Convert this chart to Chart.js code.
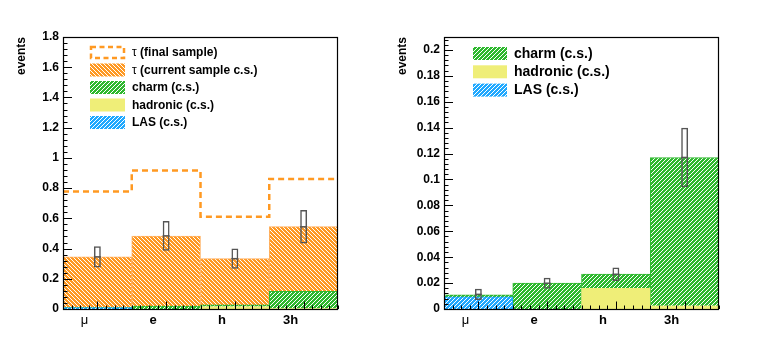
<!DOCTYPE html>
<html>
<head>
<meta charset="utf-8">
<script src="https://cdn.jsdelivr.net/npm/chart.js@4.4.0/dist/chart.umd.min.js"></script>
<style>
body { margin: 0; background: #fff; }
#wrap { position: relative; width: 763px; height: 347px; }
canvas { position: absolute; top: 0; }
</style>
</head>
<body>
<div id="wrap">
  <canvas id="left" width="381" height="347" style="left:0"></canvas>
  <canvas id="right" width="382" height="347" style="left:381px"></canvas>
</div>
<script>
// categories (tau decay channels)
const categories = ['\u03bc', 'e', 'h', '3h'];

// stacked expectations
const lasCS = [0.0093, 0, 0, 0];
const hadronicCS = [0, 0, 0.016, 0.0025];
const charmCS = [0.0017, 0.020, 0.011, 0.1145];
const tauCurrentCS = [0.334, 0.463, 0.306, 0.428];
const tauFinal = [0.777, 0.916, 0.611, 0.861];

// error boxes: centre and half height
const leftErrCenter = [0.345, 0.484, 0.333, 0.544];
const leftErrHalf = [0.071, 0.099, 0.067, 0.111];
const rightErrCenter = [0.0113, 0.0199, 0.0268, 0.117];
const rightErrHalf = [0.0044, 0.0042, 0.0052, 0.023];

// y tick labels
const leftYTicks = [0, 0.2, 0.4, 0.6, 0.8, 1, 1.2, 1.4, 1.6, 1.8];
const rightYTicks = [0, 0.02, 0.04, 0.06, 0.08, 0.1, 0.12, 0.14, 0.16, 0.18, 0.2];

const ORANGE = '#ff9922';
const GREEN = '#2eb82e';
const BLUE = '#1fa8ff';
const YELLOW = '#efee78';
const BOXGREY = '#555555';

// crisp 1px diagonal white hatch on a 4x4 tile
function hatch(color, dir) {
    const c = document.createElement('canvas');
    c.width = 4; c.height = 4;
    const g = c.getContext('2d');
    g.fillStyle = color;
    g.fillRect(0, 0, 4, 4);
    g.fillStyle = '#ffffff';
    for (let i = 0; i < 4; i++) {
        const px = dir === '/' ? 3 - i : i;
        g.fillRect(px, i, 1, 1);
    }
    return g.createPattern(c, 'repeat');
}

const orangeHatch = hatch(ORANGE, '\\');
const greenHatch = hatch(GREEN, '/');
const blueHatch = hatch(BLUE, '/');

// bin centres / edges come from the category index
const centres = arr => arr.map((v, i) => ({x: i + 0.5, y: v}));
const edges = arr => arr.concat([arr[arr.length - 1]]).map((v, i) => ({x: i, y: v}));
const boxes = (c, h) => c.map((v, i) => ({x: i + 0.5, y: [v - h[i], v + h[i]]}));

function histo(label, values, fill, line) {
    return {
        type: 'bar', label: label, data: centres(values),
        backgroundColor: fill, borderColor: line, borderWidth: 1,
        borderSkipped: 'bottom',
        barPercentage: 1, categoryPercentage: 1
    };
}

function errorSets(c, h) {
    return [{
        type: 'bar', data: boxes(c, h), stack: 'err', grouped: false,
        backgroundColor: 'rgba(0,0,0,0)', borderColor: BOXGREY, borderWidth: 1.5,
        borderSkipped: false, barPercentage: 0.1, categoryPercentage: 1
    }, {
        type: 'line', data: centres(c), stack: 'ctr', showLine: false,
        pointStyle: 'line', pointRadius: 3.5, pointBorderColor: BOXGREY,
        pointBorderWidth: 1.5
    }];
}

// ROOT style frame + inside ticks
const rootFrame = {
    id: 'rootFrame',
    afterDraw(chart, args, opts) {
        const ctx = chart.ctx, a = chart.chartArea;
        const x = chart.scales.x, y = chart.scales.y;
        ctx.save();
        ctx.strokeStyle = '#000';
        ctx.lineWidth = 1;
        ctx.beginPath();
        const nY = Math.round((y.max - y.min) / opts.yMinor);
        for (let i = 0; i <= nY; i++) {
            const v = y.min + i * opts.yMinor;
            if (v > opts.yTop + 1e-9) break;
            const py = Math.round(y.getPixelForValue(v)) + 0.5;
            const len = (i % opts.yPerMajor === 0) ? 9 : 4.5;
            ctx.moveTo(a.left, py); ctx.lineTo(a.left + len, py);
        }
        for (let i = 0; i <= 32; i++) {
            const px = Math.round(x.getPixelForValue(i / 8)) + 0.5;
            const len = (i % 8 === 4) ? 7.5 : 3.5;
            ctx.moveTo(px, a.bottom); ctx.lineTo(px, a.bottom - len);
        }
        ctx.stroke();
        ctx.lineWidth = 1.2;
        ctx.strokeRect(a.left + 0.5, a.top + 0.5, a.right - a.left - 1, a.bottom - a.top);
        ctx.restore();
    }
};

// legend inside the frame
const boxLegend = {
    id: 'boxLegend',
    afterDraw(chart, args, opts) {
        const ctx = chart.ctx;
        ctx.save();
        opts.items.forEach((it, k) => {
            const top = opts.y + k * opts.row;
            if (it.dashed) {
                ctx.strokeStyle = ORANGE;
                ctx.lineWidth = 2.5;
                ctx.setLineDash([5, 3.5]);
                ctx.strokeRect(opts.x + 1, top + 1, opts.w - 2, opts.h - 2);
                ctx.setLineDash([]);
            } else {
                ctx.fillStyle = it.fill;
                ctx.fillRect(opts.x, top, opts.w, opts.h);
            }
            ctx.fillStyle = '#000';
            ctx.textBaseline = 'middle';
            let tx = opts.x + opts.w + opts.gap;
            const ty = top + opts.h / 2 + 0.5;
            if (it.greek) {
                ctx.font = opts.size + 'px "Liberation Sans", Arial, sans-serif';
                ctx.fillText(it.greek, tx, ty);
                tx += ctx.measureText(it.greek).width;
            }
            ctx.font = 'bold ' + opts.size + 'px "Liberation Sans", Arial, sans-serif';
            ctx.fillText(it.text, tx, ty);
        });
        ctx.restore();
    }
};

function makeOptions(yMax, yTicks, frameOpts, legendOpts) {
    return {
        responsive: false,
        animation: false,
        devicePixelRatio: 1,
        layout: {padding: {top: 37, right: frameOpts.right, left: 0, bottom: 0}},
        plugins: {
            legend: {display: false},
            tooltip: {enabled: false},
            rootFrame: frameOpts,
            boxLegend: legendOpts
        },
        scales: {
            x: {
                type: 'linear', min: 0, max: categories.length, offset: false,
                stacked: true,
                grid: {display: false, drawTicks: false, offset: false},
                border: {display: false},
                afterBuildTicks: s => { s.ticks = categories.map((c, i) => ({value: i + 0.5})); },
                afterFit: s => { s.height = 38; },
                ticks: {
                    autoSkip: false, maxRotation: 0, padding: 4, labelOffset: -13,
                    color: '#000',
                    font: c => ({family: '"Liberation Sans", Arial, sans-serif', size: 13,
                                 weight: c.index === 0 ? 'normal' : 'bold'}),
                    callback: (v, i) => categories[i]
                }
            },
            y: {
                min: 0, max: yMax, stacked: true,
                grid: {display: false, drawTicks: false},
                border: {display: false},
                afterBuildTicks: s => { s.ticks = yTicks.map(v => ({value: v})); },
                afterFit: s => { s.width = 63; },
                ticks: {
                    padding: 4, color: '#000',
                    font: {family: '"Liberation Sans", Arial, sans-serif', size: 12, weight: 'bold'},
                    callback: v => String(+v.toFixed(3))
                },
                title: {
                    display: true, text: 'events', align: 'end', color: '#000',
                    padding: {top: 14, bottom: 0},
                    font: {family: '"Liberation Sans", Arial, sans-serif', size: 12, weight: 'bold'}
                }
            }
        }
    };
}

const leftDatasets = errorSets(leftErrCenter, leftErrHalf).concat([{
    type: 'line', data: edges(tauFinal), stack: 'fin', stepped: true,
    borderColor: ORANGE, borderWidth: 2.5, borderDash: [6, 4], pointRadius: 0, fill: false
}, histo('LAS (c.s.)', lasCS, blueHatch, BLUE),
   histo('hadronic (c.s.)', hadronicCS, YELLOW, YELLOW),
   histo('charm (c.s.)', charmCS, greenHatch, GREEN),
   histo('\u03c4 (current sample c.s.)', tauCurrentCS, orangeHatch, '#ffb060')]);

new Chart(document.getElementById('left'), {
    type: 'bar',
    data: {datasets: leftDatasets},
    options: makeOptions(1.8, leftYTicks,
        {right: 43, yMinor: 0.04, yPerMajor: 5, yTop: 1.8},
        {x: 90, y: 46, row: 17.5, w: 35, h: 13, gap: 7, size: 12, items: [
            {dashed: true, greek: '\u03c4', text: ' (final sample)'},
            {fill: orangeHatch, greek: '\u03c4', text: ' (current sample c.s.)'},
            {fill: greenHatch, text: 'charm (c.s.)'},
            {fill: YELLOW, text: 'hadronic (c.s.)'},
            {fill: blueHatch, text: 'LAS (c.s.)'}
        ]}),
    plugins: [rootFrame, boxLegend]
});

const rightDatasets = errorSets(rightErrCenter, rightErrHalf).concat([
    histo('LAS (c.s.)', lasCS, blueHatch, BLUE),
    histo('hadronic (c.s.)', hadronicCS, YELLOW, YELLOW),
    histo('charm (c.s.)', charmCS, greenHatch, GREEN)]);

new Chart(document.getElementById('right'), {
    type: 'bar',
    data: {datasets: rightDatasets},
    options: makeOptions(0.21, rightYTicks,
        {right: 44, yMinor: 0.004, yPerMajor: 5, yTop: 0.21},
        {x: 92, y: 47, row: 18.3, w: 34, h: 13, gap: 7, size: 14, items: [
            {fill: greenHatch, text: 'charm (c.s.)'},
            {fill: YELLOW, text: 'hadronic (c.s.)'},
            {fill: blueHatch, text: 'LAS (c.s.)'}
        ]}),
    plugins: [rootFrame, boxLegend]
});
</script>
</body>
</html>
